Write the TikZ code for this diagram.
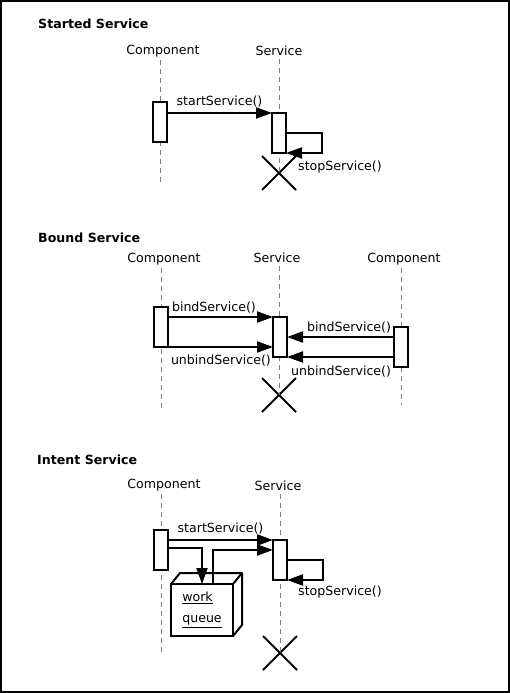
\documentclass[tikz,border=0pt]{standalone}
\usepackage{fontspec}
\setmainfont{DejaVu Sans}
\usetikzlibrary{arrows.meta,shapes.misc}

\begin{document}
\begin{tikzpicture}[
        x=1pt, y=-1pt,
        font=\fontsize{12.6}{15}\selectfont,
        title/.style={anchor=west, inner sep=0pt, font=\fontsize{12.6}{15}\selectfont\bfseries},
        actor/.style={inner sep=0pt},
        life/.style={gray, dash pattern=on 5pt off 4pt},
        act/.style={draw, line width=2pt, fill=white, outer sep=0pt, inner sep=0pt, minimum width=14pt, minimum height=40pt},
        msg/.style={line width=2pt, -{Triangle[length=16pt,width=11pt]}},
        kill/.style={draw, cross out, line width=2pt, minimum size=32pt, inner sep=0pt},
        lbl/.style={inner sep=0pt},
        qbox/.style={draw, line width=2pt, fill=white, outer sep=0pt, inner sep=0pt, minimum width=62pt, minimum height=52pt, align=left, font=\fontsize{12.6}{21}\selectfont},
        qline/.style={line width=2pt, line join=round}
    ]
        % Frame
        \useasboundingbox (0,0) rectangle (510,693);
        \draw[line width=2pt] (1,1) rectangle (509,692);

        % Started service
        \node[title] (t1) at (38,24) {Started Service};
        \node[actor] (c1) at (163,51) {Component};
        \node[actor] (s1) at (279,51) {Service};
        \node[kill] (x1) at (279,173) {};
        \coordinate (c1end) at (160,183);
        \draw[life] ([yshift=-3pt]c1.south -| c1end) -- (c1end);
        \draw[life] ([yshift=-3pt]s1.south) -- (x1.center);
        \node[act] (ca1) at (160,122) {};
        \node[act] (sa1) at (279,133) {};
        \draw[msg] (ca1.east |- sa1.north) -- node[above=5pt, lbl] {startService()} (sa1.north west);
        \draw[msg] (sa1.east) -- ++(36,0) |- (sa1.south east);
        \node[lbl, anchor=west] (stop1) at (298,167) {stopService()};

        % Bound service
        \node[title] (t2) at (38,238) {Bound Service};
        \node[actor] (c2) at (164,259) {Component};
        \node[actor] (s2) at (277,258) {Service};
        \node[actor] (d2) at (404,259) {Component};
        \node[kill] (x2) at (279,395) {};
        \coordinate (c2end) at (161,410);
        \coordinate (d2end) at (401,405);
        \draw[life] ([yshift=-3pt]c2.south -| c2end) -- (c2end);
        \draw[life] ([yshift=-3pt]s2.south -| x2) -- (x2.center);
        \draw[life] ([yshift=-3pt]d2.south -| d2end) -- (d2end);
        \node[act] (ca2) at (161,327) {};
        \node[act] (sa2) at (280,337) {};
        \node[act] (da2) at (401,347) {};
        \draw[msg] (ca2.east |- sa2.north) -- node[pos=0, anchor=south west, lbl, xshift=3pt, yshift=3pt] {bindService()} (sa2.north west);
        \draw[msg] (ca2.south east) -- node[pos=0, anchor=north west, lbl, xshift=2pt, yshift=-7pt] {unbindService()} (ca2.south east -| sa2.west);
        \draw[msg] (da2.west |- sa2.east) -- node[pos=0, anchor=south east, lbl, xshift=-2pt, yshift=3pt] {bindService()} (sa2.east);
        \draw[msg] (da2.west |- sa2.south east) -- node[pos=0, anchor=north east, lbl, xshift=-2pt, yshift=-8pt] {unbindService()} (sa2.south east);

        % Intent service
        \node[title] (t3) at (37,460) {Intent Service};
        \node[actor] (c3) at (164,485) {Component};
        \node[actor] (s3) at (278,486) {Service};
        \node[kill] (x3) at (280,653) {};
        \coordinate (c3end) at (161,652);
        \draw[life] ([yshift=-3pt]c3.south -| c3end) -- (c3end);
        \draw[life] ([yshift=-3pt]s3.south -| x3) -- (x3.center);
        \node[act] (ca3) at (161,550) {};
        \node[act] (sa3) at (280,560) {};

        % Work queue
        \node[qbox] (q3) at (202,610) {\underline{work}\\\underline{queue}};
        \draw[qline] (q3.north west) -- ++(9,-11) -- ++(62,0) -- ++(0,52) -- (q3.south east);
        \draw[qline] (q3.north east) -- ++(9,-11);

        \draw[msg] (ca3.east |- sa3.north) -- node[above=5pt, lbl] {startService()} (sa3.north west);
        \draw[msg] ([yshift=2pt]ca3.east) -| (q3.north);
        \draw[msg] ([xshift=11pt]q3.north) |- ([yshift=-10pt]sa3.north west);
        \draw[msg] (sa3.east) -- ++(36,0) |- (sa3.south east);
        \node[lbl, anchor=west] (stop3) at (298,592) {stopService()};
    \end{tikzpicture}
\end{document}
